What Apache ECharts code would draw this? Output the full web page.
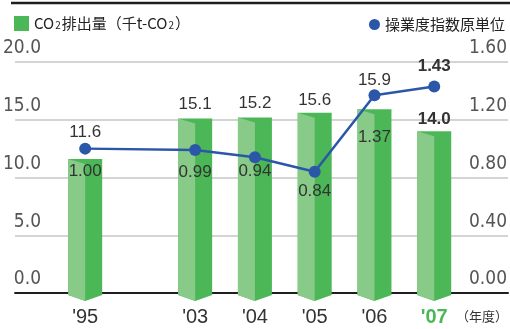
<!DOCTYPE html>
<html>
<head>
<meta charset="utf-8">
<script src="https://cdn.jsdelivr.net/npm/echarts@6/dist/echarts.min.js"></script>
<style>
  html, body { margin: 0; padding: 0; background: #fff; }
  #chart { width: 510px; height: 329px; }
</style>
</head>
<body>
<div id="chart"></div>
<script>
// Fiscal years shown on the horizontal axis
const years = ["'95", "'03", "'04", "'05", "'06", "'07"];
// CO2 emissions (thousand t-CO2)
const co2 = [11.6, 15.1, 15.2, 15.6, 15.9, 14.0];
// Emission intensity index (per unit of operation)
const intensity = [1.00, 0.99, 0.94, 0.84, 1.37, 1.43];
// Tick labels for both value axes
const leftTicks = [0, 5, 10, 15, 20];
const rightTicks = [0, 0.4, 0.8, 1.2, 1.6];

// Layout helpers: horizontal slot of each year (gap after '95)
const slots = [0, 1.84, 2.84, 3.84, 4.84, 5.84];
// Vertical placement of the value labels (pixels)
const barLabelLift = [27, 14, 14, 13, 29, 12];
const lineLabelDy = [23, 22, 14, 20, 42, -20];

const LIGHT = '#88ca88';
const DARK = '#4cb757';
const BLUE = '#2b57a9';
const NUM_FONT = '"Liberation Sans", Arial, sans-serif';
const AXIS_FONT = '"Liberation Sans Narrow", "DejaVu Sans Condensed", sans-serif';
const CJK_FONT = '"Noto Sans CJK JP", sans-serif';
const lastIdx = years.length - 1;

const chart = echarts.init(document.getElementById('chart'), null, { renderer: 'canvas' });

const co2Name = 'CO2排出量（千t-CO2）';
const idxName = '操業度指数原単位';

const option = {
  animation: false,
  backgroundColor: '#fff',
  grid: { left: 11, right: 0, top: 62, bottom: 36, containLabel: false },
  legend: [
    {
      data: [co2Name],
      left: 9, top: 11,
      icon: 'rect', itemWidth: 15, itemHeight: 15,
      formatter: () => '{a|CO}{s|2}{a|排出量（千t-CO}{s|2}{a|）}',
      textStyle: {
        rich: {
          a: { fontFamily: CJK_FONT, fontSize: 15, color: '#222' },
          s: { fontFamily: CJK_FONT, fontSize: 10, color: '#222', padding: [4, 1, 0, 1] }
        }
      }
    },
    {
      data: [idxName],
      right: 0, top: 12,
      icon: 'circle', itemWidth: 11, itemHeight: 11,
      textStyle: { fontFamily: CJK_FONT, fontSize: 15, color: '#222' }
    }
  ],
  xAxis: {
    type: 'value',
    min: -1.1736,
    max: 7.0744,
    axisLine: { show: true, onZero: false, lineStyle: { color: '#1e1e1e', width: 2 } },
    axisTick: { show: false },
    splitLine: { show: false },
    axisLabel: {
      customValues: slots,
      margin: 14,
      formatter: (v) => {
        let i = 0, best = Infinity;
        slots.forEach((s, k) => { const d = Math.abs(s - v); if (d < best) { best = d; i = k; } });
        return i === lastIdx ? '{g|' + years[i] + '}' : years[i];
      },
      fontFamily: NUM_FONT, fontSize: 20, color: '#333',
      rich: { g: { fontFamily: NUM_FONT, fontSize: 20, fontWeight: 'bold', color: DARK } }
    }
  },
  yAxis: [
    {
      type: 'value', min: leftTicks[0], max: leftTicks[leftTicks.length - 1], interval: 5,
      position: 'left',
      axisLine: { show: false, onZero: false },
      axisTick: { show: false },
      splitLine: { show: true, lineStyle: { color: '#c6c6c6', width: 1.5 } },
      axisLabel: {
        formatter: (v) => v.toFixed(1),
        align: 'right', margin: -26, verticalAlign: 'bottom', padding: [0, 0, 4, 0],
        fontFamily: AXIS_FONT, fontSize: 19, color: '#555'
      }
    },
    {
      type: 'value', min: rightTicks[0], max: rightTicks[rightTicks.length - 1], interval: 0.4,
      position: 'right',
      axisLine: { show: false, onZero: false },
      axisTick: { show: false },
      splitLine: { show: false },
      axisLabel: {
        formatter: (v) => v.toFixed(2),
        align: 'right', margin: -1, verticalAlign: 'bottom', padding: [0, 0, 4, 0],
        fontFamily: AXIS_FONT, fontSize: 19, color: '#555'
      }
    }
  ],
  series: [
    {
      name: co2Name,
      type: 'custom',
      xAxisIndex: 0, yAxisIndex: 0,
      itemStyle: { color: DARK },
      encode: { x: 0, y: 1 },
      data: slots.map((s, i) => [s, co2[i]]),
      z: 3,
      renderItem: (params, api) => {
        const i = params.dataIndex;
        const top = api.coord([api.value(0), api.value(1)]);
        const base = api.coord([api.value(0), 0]);
        const cx = top[0], ty = top[1], by = base[1], hw = 17;
        const bold = i === lastIdx;
        return {
          type: 'group',
          children: [
            {
              type: 'polygon',
              shape: { points: [[cx - hw, ty], [cx + hw, ty], [cx + hw, by + 2], [cx, by + 8], [cx - hw, by + 2]] },
              style: { fill: DARK }
            },
            {
              type: 'polygon',
              shape: { points: [[cx - hw, ty], [cx, ty + 5], [cx, by + 8], [cx - hw, by + 2]] },
              style: { fill: LIGHT }
            },
            {
              type: 'text',
              x: cx, y: ty - barLabelLift[i],
              z2: 10,
              style: {
                text: co2[i].toFixed(1),
                align: 'center', verticalAlign: 'middle',
                fontFamily: NUM_FONT, fontSize: 17,
                fontWeight: bold ? 'bold' : 'normal',
                fill: '#333'
              }
            }
          ]
        };
      }
    },
    {
      name: idxName,
      type: 'line',
      xAxisIndex: 0, yAxisIndex: 1,
      z: 5,
      symbol: 'circle', symbolSize: 12,
      itemStyle: { color: BLUE },
      lineStyle: { color: BLUE, width: 2.5 },
      data: slots.map((s, i) => ({
        value: [s, intensity[i]],
        label: {
          show: true,
          position: 'inside',
          offset: [0, lineLabelDy[i]],
          formatter: () => intensity[i].toFixed(2),
          fontFamily: NUM_FONT, fontSize: 17,
          fontWeight: i === lastIdx ? 'bold' : 'normal',
          color: '#333'
        }
      }))
    }
  ],
  graphic: [
    {
      type: 'line',
      shape: { x1: 11, y1: 3, x2: 510, y2: 3 },
      style: { stroke: '#1e1e1e', lineWidth: 2.5 }
    },
    {
      type: 'text',
      right: 2, top: 310,
      style: { text: '（年度）', fontFamily: CJK_FONT, fontSize: 13, fill: '#333' }
    }
  ]
};

chart.setOption(option);
</script>
</body>
</html>
